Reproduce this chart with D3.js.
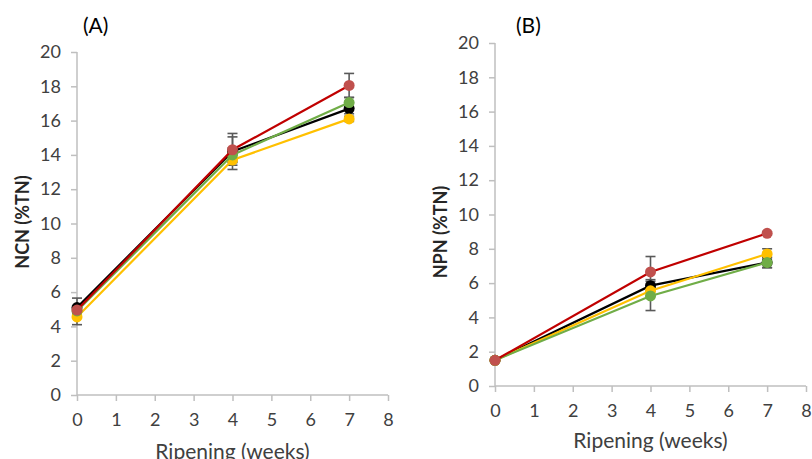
<!DOCTYPE html>
<html>
<head>
<meta charset="utf-8">
<script src="https://cdn.jsdelivr.net/npm/d3@7"></script>
<style>
body{margin:0;background:#fff}
text{font-family:Lato,"Open Sans",sans-serif}
</style>
</head>
<body>
<div id="chart"></div>
<script>
let weeks = [0, 4, 7]
let xTicks = [0, 1, 2, 3, 4, 5, 6, 7, 8]
let yTicks = [0, 2, 4, 6, 8, 10, 12, 14, 16, 18, 20]

// series order = drawing order
let seriesNames = ["black", "yellow", "green", "red"]
let lineColors = ["#000000", "#ffc000", "#70ad47", "#c00000"]
let dotColors = ["#000000", "#ffc000", "#70ad47", "#c0504d"]

// panel A, NCN
let ncnBlack = [5.1, 14.2, 16.7]
let ncnYellow = [4.55, 13.7, 16.1]
let ncnGreen = [4.9, 14.0, 17.05]
let ncnRed = [4.95, 14.3, 18.05]
let ncnErrBlack = [0.55, 1.05, 0.3]
let ncnErrYellow = [0.45, 0.3, 0.15]
let ncnErrGreen = [0.2, 0.4, 0.3]
let ncnErrRed = [0.2, 0.75, 0.7]

// panel B, NPN
let npnBlack = [1.5, 5.85, 7.2]
let npnYellow = [1.5, 5.55, 7.7]
let npnGreen = [1.5, 5.25, 7.2]
let npnRed = [1.5, 6.65, 8.9]
let npnErrBlack = [0.1, 0.35, 0.3]
let npnErrYellow = [0.1, 0.3, 0.3]
let npnErrGreen = [0.1, 0.85, 0.3]
let npnErrRed = [0.1, 0.9, 0.1]

let svg = d3.select("#chart").append("svg")
    .attr("width", 812)
    .attr("height", 459)

function panel(opt){
    let x = d3.scaleLinear().domain([0, 8]).range([opt.left, opt.left + 311])
    let y = d3.scaleLinear().domain([0, 20]).range([opt.bottom, opt.bottom - 343])
    let g = svg.append("g")

    let yAxis = g.append("g")
        .attr("transform", "translate(" + opt.left + ",0)")
        .call(d3.axisLeft(y).tickValues(yTicks).tickSize(6).tickPadding(10))
    let xAxis = g.append("g")
        .attr("transform", "translate(0," + opt.bottom + ")")
        .call(d3.axisBottom(x).tickValues(xTicks).tickSize(6).tickPadding(12))
    g.selectAll(".domain").attr("stroke", "#bfbfbf").attr("stroke-width", 1.5)
    g.selectAll(".tick line").attr("stroke", "#bfbfbf").attr("stroke-width", 1.5)
    g.selectAll(".tick text").attr("fill", "#404040").style("font-size", "18px")
    // remove the outer tick stubs at the ends of the domain
    yAxis.select(".domain").attr("d", "M0," + y(20) + "V" + y(0))
    xAxis.select(".domain").attr("d", "M" + x(0) + ",0H" + x(8))

    // error bars
    opt.series.forEach((s, i) => {
        let eg = g.append("g").attr("stroke", "#595959").attr("stroke-width", 1.6)
        weeks.forEach((w, j) => {
            let lo = y(s[j] - opt.errs[i][j]), hi = y(s[j] + opt.errs[i][j])
            eg.append("line").attr("x1", x(w)).attr("x2", x(w)).attr("y1", lo).attr("y2", hi)
            eg.append("line").attr("x1", x(w) - 5).attr("x2", x(w) + 5).attr("y1", lo).attr("y2", lo)
            eg.append("line").attr("x1", x(w) - 5).attr("x2", x(w) + 5).attr("y1", hi).attr("y2", hi)
        })
    })

    let line = d3.line().x((d, j) => x(weeks[j])).y(d => y(d))
    opt.series.forEach((s, i) => {
        g.append("path")
            .attr("d", line(s))
            .attr("fill", "none")
            .attr("stroke", lineColors[i])
            .attr("stroke-width", 2.2)
        g.selectAll(null).data(s).enter().append("circle")
            .attr("cx", (d, j) => x(weeks[j]))
            .attr("cy", d => y(d))
            .attr("r", 5.5)
            .attr("fill", dotColors[i])
    })

    g.append("text")
        .attr("x", opt.labelX).attr("y", 33)
        .style("font-size", "21px").attr("fill", "#000")
        .text(opt.label)
    g.append("text")
        .attr("transform", "translate(" + opt.titleX + "," + opt.titleY + ") rotate(-90)")
        .attr("text-anchor", "middle")
        .style("font-size", "18px").style("font-weight", "bold").attr("fill", "#262626")
        .text(opt.yTitle)
    g.append("text")
        .attr("x", x(4)).attr("y", opt.bottom + opt.xTitleDy)
        .attr("text-anchor", "middle")
        .style("font-size", "21px").attr("fill", "#404040")
        .text("Ripening (weeks)")
}

panel({
    left: 77, bottom: 395, label: "(A)", labelX: 83,
    yTitle: "NCN (%TN)", titleX: 29, titleY: 222, xTitleDy: 64,
    series: [ncnBlack, ncnYellow, ncnGreen, ncnRed],
    errs: [ncnErrBlack, ncnErrYellow, ncnErrGreen, ncnErrRed]
})
panel({
    left: 495, bottom: 386, label: "(B)", labelX: 516,
    yTitle: "NPN (%TN)", titleX: 447, titleY: 232, xTitleDy: 62,
    series: [npnBlack, npnYellow, npnGreen, npnRed],
    errs: [npnErrBlack, npnErrYellow, npnErrGreen, npnErrRed]
})
</script>
</body>
</html>
